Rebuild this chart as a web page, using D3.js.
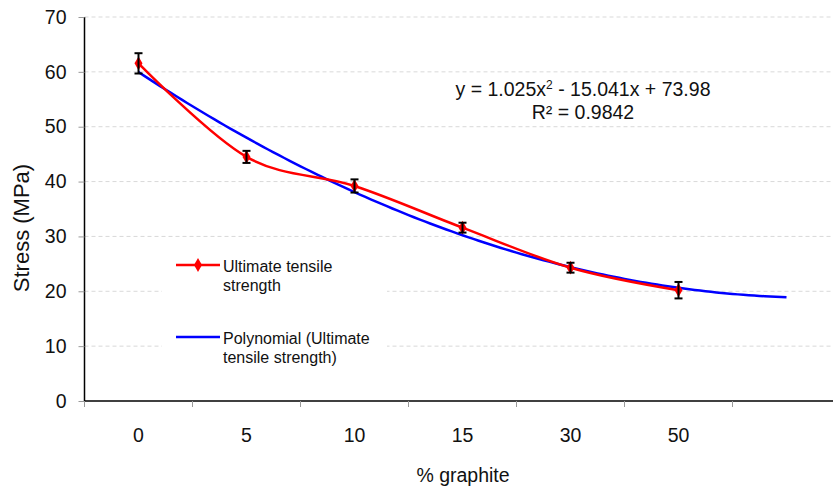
<!DOCTYPE html>
<html>
<head>
<meta charset="utf-8">
<script src="https://cdn.jsdelivr.net/npm/d3@7"></script>
<style>
  html, body { margin: 0; padding: 0; background: #fff; }
  svg { display: block; font-family: "Liberation Sans", Arial, sans-serif; }
</style>
</head>
<body>
<svg id="chart" width="833" height="492"></svg>
<script>
// ---- data ----
const categories = ["0", "5", "10", "15", "30", "50", ""];   // last slot: trendline forecast period
const stress = [61.55, 44.5, 39.2, 31.6, 24.3, 20.2];
const stressErr = [1.85, 1.1, 1.2, 0.9, 0.9, 1.5];
const trendCoef = [1.025, -15.041, 73.98];                 // y = a x^2 + b x + c (x = 1..7)
const trendRange = [1, 7];
const yTicks = [0, 10, 20, 30, 40, 50, 60, 70];
const equationText = ["y = 1.025x", "2", " - 15.041x + 73.98"];
const r2Text = "R² = 0.9842";
const legendLabels = [["Ultimate tensile", "strength"], ["Polynomial (Ultimate", "tensile strength)"]];

// ---- layout ----
const svg = d3.select("#chart");
const plotLeft = 84.5, bandW = 108, plotTop = 17, plotBottom = 401;
const bigFont = 19.5;
const x = d3.scaleBand().domain(categories.map((c, i) => i)).range([plotLeft, plotLeft + bandW * categories.length]);
const xc = i => x(i) + x.bandwidth() / 2;
const y = d3.scaleLinear().domain([0, 70]).range([plotBottom, plotTop]);
const xTrend = d3.scaleLinear().domain([1, 7]).range([xc(0), xc(6)]);

// gridlines
svg.append("g").selectAll("line").data(yTicks.filter(d => d > 0)).join("line")
  .attr("x1", plotLeft).attr("x2", 833)
  .attr("y1", d => y(d)).attr("y2", d => y(d))
  .attr("stroke", "#d9d9d9").attr("stroke-width", 1).attr("stroke-dasharray", "4,3");

// legend background (hides gridlines)
svg.append("rect").attr("x", 162).attr("y", 250).attr("width", 225).attr("height", 122).attr("fill", "#fff");

// y axis
const yAxis = svg.append("g").attr("transform", `translate(${plotLeft},0)`)
  .call(d3.axisLeft(y).tickValues(yTicks).tickSize(6).tickPadding(12));
yAxis.select(".domain").attr("stroke", "#000").attr("stroke-width", 1.5).attr("d", `M0,${plotTop}V${plotBottom}`);
yAxis.selectAll(".tick line").attr("stroke", "#999");
yAxis.selectAll(".tick text").attr("font-size", bigFont).attr("fill", "#111")
  .attr("font-family", "'Liberation Sans', Arial, sans-serif");

// x axis
const xAxisG = svg.append("g").attr("transform", `translate(0,${plotBottom})`);
xAxisG.append("line").attr("x1", plotLeft).attr("x2", 833).attr("y1", 0).attr("y2", 0)
  .attr("stroke", "#000").attr("stroke-width", 1.5);
const boundaries = categories.map((c, i) => x(i));
xAxisG.selectAll("line.tk").data(boundaries).join("line").attr("class", "tk")
  .attr("x1", d => d).attr("x2", d => d).attr("y1", 0).attr("y2", 6)
  .attr("stroke", "#999");
xAxisG.selectAll("text").data(categories).join("text")
  .attr("x", (d, i) => xc(i)).attr("y", 41).attr("text-anchor", "middle")
  .attr("font-size", bigFont).attr("fill", "#111").text(d => d);

// axis titles
svg.append("text").attr("x", 463).attr("y", 482).attr("text-anchor", "middle")
  .attr("font-size", bigFont).attr("fill", "#111").text("% graphite");
svg.append("text").attr("transform", "translate(29,228) rotate(-90)").attr("text-anchor", "middle")
  .attr("font-size", 22).attr("fill", "#111").text("Stress (MPa)");

// trendline
const trendPts = d3.range(trendRange[0], trendRange[1] + 0.001, 0.05)
  .map(t => [xTrend(t), y(trendCoef[0] * t * t + trendCoef[1] * t + trendCoef[2])]);
svg.append("path").attr("d", d3.line().curve(d3.curveLinear)(trendPts))
  .attr("fill", "none").attr("stroke", "#0000ff").attr("stroke-width", 2.5);

// smoothed data line
const pts = stress.map((v, i) => [xc(i), y(v)]);
svg.append("path").attr("d", d3.line().curve(d3.curveCardinal.tension(0))(pts))
  .attr("fill", "none").attr("stroke", "#ff0000").attr("stroke-width", 2.5);

// markers
svg.append("g").selectAll("path").data(stress).join("path")
  .attr("transform", (d, i) => `translate(${xc(i)},${y(d)})`)
  .attr("d", d3.symbol(d3.symbolDiamond, 55))
  .attr("fill", "#ff0000");

// error bars
const eb = svg.append("g").attr("stroke", "#000").attr("stroke-width", 2);
stress.forEach((v, i) => {
  const cx = xc(i), e = stressErr[i];
  eb.append("line").attr("x1", cx).attr("x2", cx).attr("y1", y(v + e)).attr("y2", y(v - e));
  eb.append("line").attr("x1", cx - 4).attr("x2", cx + 4).attr("y1", y(v + e)).attr("y2", y(v + e));
  eb.append("line").attr("x1", cx - 4).attr("x2", cx + 4).attr("y1", y(v - e)).attr("y2", y(v - e));
});

// equation
const eq = svg.append("text").attr("x", 583).attr("y", 96).attr("text-anchor", "middle")
  .attr("font-size", bigFont).attr("fill", "#111");
eq.append("tspan").text(equationText[0]);
eq.append("tspan").attr("font-size", 12).attr("dy", -7).text(equationText[1]);
eq.append("tspan").attr("dy", 7).text(equationText[2]);
svg.append("text").attr("x", 583).attr("y", 119).attr("text-anchor", "middle")
  .attr("font-size", bigFont).attr("fill", "#111").text(r2Text);

// legend
const lg = svg.append("g");
const legendY = [265, 337];
const legendColors = ["#ff0000", "#0000ff"];
legendLabels.forEach((lines, k) => {
  lg.append("line").attr("x1", 176).attr("x2", 220).attr("y1", legendY[k]).attr("y2", legendY[k])
    .attr("stroke", legendColors[k]).attr("stroke-width", 2.5);
  if (k === 0) {
    lg.append("path").attr("transform", `translate(198,${legendY[k]})`)
      .attr("d", d3.symbol(d3.symbolDiamond, 55)).attr("fill", "#ff0000");
  }
  lines.forEach((t, j) => {
    lg.append("text").attr("x", 223).attr("y", legendY[k] + 7 + j * 19)
      .attr("font-size", 16).attr("fill", "#111").text(t);
  });
});
</script>
</body>
</html>
